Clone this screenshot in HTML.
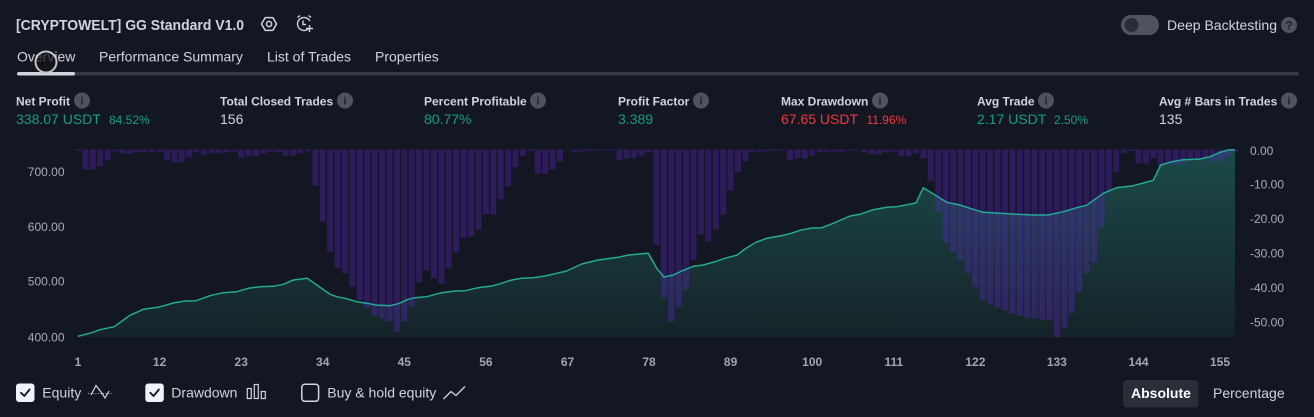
<!DOCTYPE html>
<html><head><meta charset="utf-8">
<style>
html,body{margin:0;padding:0;background:#131722;}
body{width:1314px;height:417px;overflow:hidden;position:relative;}
svg{position:absolute;left:0;top:0;font-family:"Liberation Sans",Arial,sans-serif;}
</style></head>
<body>
<svg width="1314" height="417" viewBox="0 0 1314 417" xmlns="http://www.w3.org/2000/svg">
<defs>
<linearGradient id="eqg" x1="0" y1="150" x2="0" y2="337" gradientUnits="userSpaceOnUse">
<stop offset="0" stop-color="#1b4a48"/>
<stop offset="1" stop-color="#152329"/>
</linearGradient>
</defs>
<rect x="0" y="0" width="1314" height="417" fill="#131722"/>

<!-- Header -->
<text x="16" y="30" font-size="15" font-weight="bold" fill="#d1d4dc" textLength="228" lengthAdjust="spacingAndGlyphs">[CRYPTOWELT] GG Standard V1.0</text>
<!-- settings hex icon -->
<polygon points="261.5,24 265.2,17.6 272.8,17.6 276.5,24 272.8,30.4 265.2,30.4" fill="none" stroke="#d1d4dc" stroke-width="1.5" stroke-linejoin="round"/>
<circle cx="269" cy="24" r="2.6" fill="none" stroke="#d1d4dc" stroke-width="1.5"/>
<!-- alarm plus icon -->
<path d="M309.5,27.5 A6.5,6.5 0 1 1 309.8,21" fill="none" stroke="#d1d4dc" stroke-width="1.4"/>
<path d="M303,20.5 V24.5 H306" fill="none" stroke="#d1d4dc" stroke-width="1.4"/>
<path d="M297.5,17.5 L300,15.5 M308.5,15.5 L311,17.5" stroke="#d1d4dc" stroke-width="1.4"/>
<path d="M309.5,25 V32 M306,28.5 H313" stroke="#d1d4dc" stroke-width="1.4"/>

<!-- Deep backtesting toggle -->
<rect x="1121" y="15" width="38" height="20" rx="10" fill="#50535e"/>
<circle cx="1131.5" cy="25" r="7" fill="#2a2e39"/>
<text x="1167" y="30" font-size="14" fill="#d1d4dc" textLength="110" lengthAdjust="spacingAndGlyphs">Deep Backtesting</text>
<circle cx="1289" cy="25" r="8" fill="#50535e"/>
<text x="1289" y="29.5" font-size="12" font-weight="bold" fill="#1e222d" text-anchor="middle">?</text>

<!-- Tabs -->
<text x="17" y="61.5" font-size="14" fill="#d1d4dc">Overview</text>
<text x="99" y="61.5" font-size="14" fill="#d1d4dc">Performance Summary</text>
<text x="267" y="61.5" font-size="14" fill="#d1d4dc">List of Trades</text>
<text x="375" y="61.5" font-size="14" fill="#d1d4dc">Properties</text>
<rect x="17" y="72" width="1282" height="3.5" rx="1.75" fill="#363a45"/>
<rect x="17" y="72" width="58" height="3.5" rx="1.75" fill="#d1d4dc"/>
<circle cx="46" cy="62" r="10.5" fill="rgba(22,22,24,0.75)" stroke="#c4c4c4" stroke-width="2"/>

<!-- Metrics -->
<g font-size="12" font-weight="bold" fill="#d1d4dc">
<text x="16" y="105.5">Net Profit</text>
<text x="220" y="105.5">Total Closed Trades</text>
<text x="424" y="105.5">Percent Profitable</text>
<text x="618" y="105.5">Profit Factor</text>
<text x="781" y="105.5">Max Drawdown</text>
<text x="977" y="105.5">Avg Trade</text>
<text x="1159" y="105.5">Avg # Bars in Trades</text>
</g>
<g fill="#50535e">
<circle cx="82" cy="100.5" r="8"/>
<circle cx="345" cy="100.5" r="8"/>
<circle cx="538" cy="100.5" r="8"/>
<circle cx="701" cy="100.5" r="8"/>
<circle cx="880" cy="100.5" r="8"/>
<circle cx="1046" cy="100.5" r="8"/>
<circle cx="1289" cy="100.5" r="8"/>
</g>
<g font-size="11" font-weight="bold" fill="#1e222d" text-anchor="middle">
<text x="82" y="104.5">i</text>
<text x="345" y="104.5">i</text>
<text x="538" y="104.5">i</text>
<text x="701" y="104.5">i</text>
<text x="880" y="104.5">i</text>
<text x="1046" y="104.5">i</text>
<text x="1289" y="104.5">i</text>
</g>
<g font-size="14">
<text x="16" y="124" fill="#0e9f86">338.07 USDT</text>
<text x="109" y="124" font-size="12" fill="#0e9f86">84.52%</text>
<text x="220" y="124" fill="#d1d4dc">156</text>
<text x="424" y="124" fill="#0e9f86">80.77%</text>
<text x="618" y="124" fill="#0e9f86">3.389</text>
<text x="781" y="124" fill="#f23645">67.65 USDT</text>
<text x="866.5" y="124" font-size="12" fill="#f23645">11.96%</text>
<text x="977" y="124" fill="#0e9f86">2.17 USDT</text>
<text x="1054" y="124" font-size="12" fill="#0e9f86">2.50%</text>
<text x="1159" y="124" fill="#d1d4dc">135</text>
</g>

<!-- Equity fill -->
<path fill="url(#eqg)" d="M78,337 L78,336.3 L91.7,332.7 L100,329.7 L114.3,326.7 L129.3,315.7 L143.3,309.3 L158.3,307.3 L173.3,303 L185,301 L196,300.7 L210,295.7 L223.3,292.7 L236.7,291.7 L248.3,288.3 L260,286.7 L273.3,286.3 L283.3,284.3 L293.3,280 L307.3,278.3 L316.7,285 L330,294.3 L336.7,296.7 L345,298.3 L356.7,301.7 L370,303.7 L375,305 L390,305.7 L398.3,303.7 L408.3,299.3 L415,297.7 L426.7,296.7 L441.7,292.7 L455,291 L465,290.7 L478.3,287.7 L491.7,286 L498.3,284.3 L511.7,280 L521.7,278.3 L533.3,277.7 L545,276 L555,273.7 L566.7,271 L581.7,264 L598.3,260 L618.3,257.3 L628.3,255 L648.3,253.3 L656.7,268.3 L664,277 L673.3,275 L683.3,270.3 L693.3,266.3 L703.3,265 L715,261.7 L725,258.3 L737.3,255 L745,249 L755,242.7 L766.7,238.3 L780,236 L790,233.7 L800,230.3 L811.7,228 L821.7,227.7 L833.3,223.3 L850,216 L860,214.3 L873.3,209.7 L886.7,207.3 L896.7,206.7 L916,203 L923.3,187.7 L935,195 L946.7,202.3 L960,205 L970,208.3 L983.3,212.3 L1000,213.3 L1016.7,214.3 L1033.3,215 L1048.3,215 L1063.3,211.7 L1076.7,207.7 L1086.7,205.3 L1103.3,193.3 L1116.7,187.7 L1133.3,185.7 L1153.3,180.3 L1160.7,165 L1171.7,161.7 L1183.3,159.7 L1200,159 L1210,156.7 L1220,152.3 L1228.3,150 L1235,149.7 L1235,337 Z"/>

<!-- Drawdown bars -->
<g fill="rgba(100,34,205,0.34)">
<rect x="75.0" y="149.5" width="6" height="1.3"/>
<rect x="82.4" y="149.5" width="6" height="19.8"/>
<rect x="89.8" y="149.5" width="6" height="20.2"/>
<rect x="97.2" y="149.5" width="6" height="16.8"/>
<rect x="104.7" y="149.5" width="6" height="10.2"/>
<rect x="112.1" y="149.5" width="6" height="1.8"/>
<rect x="119.5" y="149.5" width="6" height="4.2"/>
<rect x="126.9" y="149.5" width="6" height="4.2"/>
<rect x="134.3" y="149.5" width="6" height="2.8"/>
<rect x="141.7" y="149.5" width="6" height="2.8"/>
<rect x="149.2" y="149.5" width="6" height="2.2"/>
<rect x="156.6" y="149.5" width="6" height="2.2"/>
<rect x="164.0" y="149.5" width="6" height="10.2"/>
<rect x="171.4" y="149.5" width="6" height="12.8"/>
<rect x="178.8" y="149.5" width="6" height="12.8"/>
<rect x="186.2" y="149.5" width="6" height="7.8"/>
<rect x="193.6" y="149.5" width="6" height="2.8"/>
<rect x="201.1" y="149.5" width="6" height="5.2"/>
<rect x="208.5" y="149.5" width="6" height="3.8"/>
<rect x="215.9" y="149.5" width="6" height="3.8"/>
<rect x="223.3" y="149.5" width="6" height="2.8"/>
<rect x="230.7" y="149.5" width="6" height="2.2"/>
<rect x="238.1" y="149.5" width="6" height="8.2"/>
<rect x="245.6" y="149.5" width="6" height="6.8"/>
<rect x="253.0" y="149.5" width="6" height="6.8"/>
<rect x="260.4" y="149.5" width="6" height="4.2"/>
<rect x="267.8" y="149.5" width="6" height="2.2"/>
<rect x="275.2" y="149.5" width="6" height="2.8"/>
<rect x="282.6" y="149.5" width="6" height="6.2"/>
<rect x="290.1" y="149.5" width="6" height="6.2"/>
<rect x="297.5" y="149.5" width="6" height="3.8"/>
<rect x="304.9" y="149.5" width="6" height="1.8"/>
<rect x="312.3" y="149.5" width="6" height="36.2"/>
<rect x="319.7" y="149.5" width="6" height="72.2"/>
<rect x="327.1" y="149.5" width="6" height="102.2"/>
<rect x="334.6" y="149.5" width="6" height="118.2"/>
<rect x="342.0" y="149.5" width="6" height="123.8"/>
<rect x="349.4" y="149.5" width="6" height="137.2"/>
<rect x="356.8" y="149.5" width="6" height="150.5"/>
<rect x="364.2" y="149.5" width="6" height="158.2"/>
<rect x="371.6" y="149.5" width="6" height="166.2"/>
<rect x="379.1" y="149.5" width="6" height="168.8"/>
<rect x="386.5" y="149.5" width="6" height="171.5"/>
<rect x="393.9" y="149.5" width="6" height="182.2"/>
<rect x="401.3" y="149.5" width="6" height="172.2"/>
<rect x="408.7" y="149.5" width="6" height="157.2"/>
<rect x="416.1" y="149.5" width="6" height="132.8"/>
<rect x="423.5" y="149.5" width="6" height="120.8"/>
<rect x="431.0" y="149.5" width="6" height="128.8"/>
<rect x="438.4" y="149.5" width="6" height="134.2"/>
<rect x="445.8" y="149.5" width="6" height="118.8"/>
<rect x="453.2" y="149.5" width="6" height="102.8"/>
<rect x="460.6" y="149.5" width="6" height="88.2"/>
<rect x="468.0" y="149.5" width="6" height="86.8"/>
<rect x="475.5" y="149.5" width="6" height="80.2"/>
<rect x="482.9" y="149.5" width="6" height="64.8"/>
<rect x="490.3" y="149.5" width="6" height="64.8"/>
<rect x="497.7" y="149.5" width="6" height="49.8"/>
<rect x="505.1" y="149.5" width="6" height="36.8"/>
<rect x="512.5" y="149.5" width="6" height="17.8"/>
<rect x="520.0" y="149.5" width="6" height="6.2"/>
<rect x="527.4" y="149.5" width="6" height="1.2"/>
<rect x="534.8" y="149.5" width="6" height="24.2"/>
<rect x="542.2" y="149.5" width="6" height="24.2"/>
<rect x="549.6" y="149.5" width="6" height="19.8"/>
<rect x="557.0" y="149.5" width="6" height="11.8"/>
<rect x="564.4" y="149.5" width="6" height="0.8"/>
<rect x="571.9" y="149.5" width="6" height="2.2"/>
<rect x="579.3" y="149.5" width="6" height="2.2"/>
<rect x="586.7" y="149.5" width="6" height="1.2"/>
<rect x="594.1" y="149.5" width="6" height="1.2"/>
<rect x="601.5" y="149.5" width="6" height="1.2"/>
<rect x="608.9" y="149.5" width="6" height="1.2"/>
<rect x="616.4" y="149.5" width="6" height="10.8"/>
<rect x="623.8" y="149.5" width="6" height="8.8"/>
<rect x="631.2" y="149.5" width="6" height="8.8"/>
<rect x="638.6" y="149.5" width="6" height="6.2"/>
<rect x="646.0" y="149.5" width="6" height="2.8"/>
<rect x="653.4" y="149.5" width="6" height="95.5"/>
<rect x="660.8" y="149.5" width="6" height="148"/>
<rect x="668.3" y="149.5" width="6" height="172.2"/>
<rect x="675.7" y="149.5" width="6" height="157.2"/>
<rect x="683.1" y="149.5" width="6" height="140"/>
<rect x="690.5" y="149.5" width="6" height="110"/>
<rect x="697.9" y="149.5" width="6" height="84.8"/>
<rect x="705.3" y="149.5" width="6" height="92"/>
<rect x="712.8" y="149.5" width="6" height="79.8"/>
<rect x="720.2" y="149.5" width="6" height="65"/>
<rect x="727.6" y="149.5" width="6" height="41"/>
<rect x="735.0" y="149.5" width="6" height="23"/>
<rect x="742.4" y="149.5" width="6" height="11.7"/>
<rect x="749.8" y="149.5" width="6" height="3"/>
<rect x="757.3" y="149.5" width="6" height="2"/>
<rect x="764.7" y="149.5" width="6" height="1.7"/>
<rect x="772.1" y="149.5" width="6" height="1.2"/>
<rect x="779.5" y="149.5" width="6" height="1.2"/>
<rect x="786.9" y="149.5" width="6" height="11"/>
<rect x="794.3" y="149.5" width="6" height="8.8"/>
<rect x="801.7" y="149.5" width="6" height="8.8"/>
<rect x="809.2" y="149.5" width="6" height="6"/>
<rect x="816.6" y="149.5" width="6" height="2.8"/>
<rect x="824.0" y="149.5" width="6" height="2.2"/>
<rect x="831.4" y="149.5" width="6" height="2.2"/>
<rect x="838.8" y="149.5" width="6" height="2"/>
<rect x="846.2" y="149.5" width="6" height="1.2"/>
<rect x="853.7" y="149.5" width="6" height="1.2"/>
<rect x="861.1" y="149.5" width="6" height="2.8"/>
<rect x="868.5" y="149.5" width="6" height="4.8"/>
<rect x="875.9" y="149.5" width="6" height="4.8"/>
<rect x="883.3" y="149.5" width="6" height="2.8"/>
<rect x="890.7" y="149.5" width="6" height="2.2"/>
<rect x="898.2" y="149.5" width="6" height="6.8"/>
<rect x="905.6" y="149.5" width="6" height="6.8"/>
<rect x="913.0" y="149.5" width="6" height="3.8"/>
<rect x="920.4" y="149.5" width="6" height="8.8"/>
<rect x="927.8" y="149.5" width="6" height="31.8"/>
<rect x="935.2" y="149.5" width="6" height="62.2"/>
<rect x="942.6" y="149.5" width="6" height="93"/>
<rect x="950.1" y="149.5" width="6" height="103"/>
<rect x="957.5" y="149.5" width="6" height="111"/>
<rect x="964.9" y="149.5" width="6" height="123.8"/>
<rect x="972.3" y="149.5" width="6" height="137.2"/>
<rect x="979.7" y="149.5" width="6" height="151"/>
<rect x="987.1" y="149.5" width="6" height="155"/>
<rect x="994.6" y="149.5" width="6" height="158"/>
<rect x="1002.0" y="149.5" width="6" height="161.2"/>
<rect x="1009.4" y="149.5" width="6" height="163.8"/>
<rect x="1016.8" y="149.5" width="6" height="166"/>
<rect x="1024.2" y="149.5" width="6" height="168.2"/>
<rect x="1031.6" y="149.5" width="6" height="169.5"/>
<rect x="1039.1" y="149.5" width="6" height="170.3"/>
<rect x="1046.5" y="149.5" width="6" height="170.3"/>
<rect x="1053.9" y="149.5" width="6" height="187.8"/>
<rect x="1061.3" y="149.5" width="6" height="178.2"/>
<rect x="1068.7" y="149.5" width="6" height="163.8"/>
<rect x="1076.1" y="149.5" width="6" height="142.2"/>
<rect x="1083.5" y="149.5" width="6" height="124"/>
<rect x="1091.0" y="149.5" width="6" height="113"/>
<rect x="1098.4" y="149.5" width="6" height="77.2"/>
<rect x="1105.8" y="149.5" width="6" height="41"/>
<rect x="1113.2" y="149.5" width="6" height="23"/>
<rect x="1120.6" y="149.5" width="6" height="3.8"/>
<rect x="1128.0" y="149.5" width="6" height="1.5"/>
<rect x="1135.5" y="149.5" width="6" height="14"/>
<rect x="1142.9" y="149.5" width="6" height="14"/>
<rect x="1150.3" y="149.5" width="6" height="8.8"/>
<rect x="1157.7" y="149.5" width="6" height="17.5"/>
<rect x="1165.1" y="149.5" width="6" height="15"/>
<rect x="1172.5" y="149.5" width="6" height="15"/>
<rect x="1180.0" y="149.5" width="6" height="15"/>
<rect x="1187.4" y="149.5" width="6" height="9.5"/>
<rect x="1194.8" y="149.5" width="6" height="8.8"/>
<rect x="1202.2" y="149.5" width="6" height="8.8"/>
<rect x="1209.6" y="149.5" width="6" height="11.7"/>
<rect x="1217.0" y="149.5" width="6" height="11.7"/>
<rect x="1224.4" y="149.5" width="6" height="7.7"/>
<rect x="1231.9" y="149.5" width="6" height="2.8"/>
</g>

<!-- Equity line -->
<polyline fill="none" stroke="#22ab94" stroke-width="1.5" stroke-linejoin="round" points="78,336.3 91.7,332.7 100,329.7 114.3,326.7 129.3,315.7 143.3,309.3 158.3,307.3 173.3,303 185,301 196,300.7 210,295.7 223.3,292.7 236.7,291.7 248.3,288.3 260,286.7 273.3,286.3 283.3,284.3 293.3,280 307.3,278.3 316.7,285 330,294.3 336.7,296.7 345,298.3 356.7,301.7 370,303.7 375,305 390,305.7 398.3,303.7 408.3,299.3 415,297.7 426.7,296.7 441.7,292.7 455,291 465,290.7 478.3,287.7 491.7,286 498.3,284.3 511.7,280 521.7,278.3 533.3,277.7 545,276 555,273.7 566.7,271 581.7,264 598.3,260 618.3,257.3 628.3,255 648.3,253.3 656.7,268.3 664,277 673.3,275 683.3,270.3 693.3,266.3 703.3,265 715,261.7 725,258.3 737.3,255 745,249 755,242.7 766.7,238.3 780,236 790,233.7 800,230.3 811.7,228 821.7,227.7 833.3,223.3 850,216 860,214.3 873.3,209.7 886.7,207.3 896.7,206.7 916,203 923.3,187.7 935,195 946.7,202.3 960,205 970,208.3 983.3,212.3 1000,213.3 1016.7,214.3 1033.3,215 1048.3,215 1063.3,211.7 1076.7,207.7 1086.7,205.3 1103.3,193.3 1116.7,187.7 1133.3,185.7 1153.3,180.3 1160.7,165 1171.7,161.7 1183.3,159.7 1200,159 1210,156.7 1220,152.3 1228.3,150 1235,149.7"/>

<!-- Left axis -->
<g font-size="12" fill="#a9acb5" text-anchor="end">
<text x="64.5" y="175.8">700.00</text>
<text x="64.5" y="230.8">600.00</text>
<text x="64.5" y="285.6">500.00</text>
<text x="64.5" y="341.6">400.00</text>
</g>
<!-- Right axis -->
<g font-size="12" fill="#a9acb5">
<text x="1250" y="155">0.00</text>
<text x="1250" y="188.6">-10.00</text>
<text x="1250" y="223">-20.00</text>
<text x="1250" y="257.6">-30.00</text>
<text x="1250" y="292">-40.00</text>
<text x="1250" y="326.6">-50.00</text>
</g>
<!-- X axis -->
<g font-size="12" font-weight="bold" fill="#a3a6af" text-anchor="middle">
<text x="78" y="366">1</text>
<text x="159.6" y="366">12</text>
<text x="241.2" y="366">23</text>
<text x="322.7" y="366">34</text>
<text x="404.3" y="366">45</text>
<text x="485.9" y="366">56</text>
<text x="567.5" y="366">67</text>
<text x="649" y="366">78</text>
<text x="730.6" y="366">89</text>
<text x="812.2" y="366">100</text>
<text x="893.8" y="366">111</text>
<text x="975.4" y="366">122</text>
<text x="1056.9" y="366">133</text>
<text x="1138.5" y="366">144</text>
<text x="1220" y="366">155</text>
</g>

<!-- Legend -->
<rect x="16" y="383.5" width="18.5" height="18.5" rx="3" fill="#f0f3fa"/>
<path d="M21,392.8 L24.3,396 L29.6,389.5" fill="none" stroke="#131722" stroke-width="1.8" stroke-linecap="round" stroke-linejoin="round"/>
<text x="42.3" y="397.5" font-size="14" fill="#d1d4dc">Equity</text>
<line x1="88" y1="393.5" x2="112" y2="393.5" stroke="#a9acb5" stroke-width="1" stroke-dasharray="1,1.5"/>
<polyline points="91,395 96,385.5 101,392 105,398 109,391" fill="none" stroke="#d1d4dc" stroke-width="1.2"/>

<rect x="145.3" y="383.5" width="18.5" height="18.5" rx="3" fill="#f0f3fa"/>
<path d="M150.3,392.8 L153.6,396 L158.9,389.5" fill="none" stroke="#131722" stroke-width="1.8" stroke-linecap="round" stroke-linejoin="round"/>
<text x="171.3" y="397.5" font-size="14" fill="#d1d4dc">Drawdown</text>
<g fill="none" stroke="#d1d4dc" stroke-width="1.2">
<rect x="247.3" y="388.5" width="4" height="10"/>
<rect x="254.3" y="384.5" width="4" height="14"/>
<rect x="261.3" y="391.5" width="4" height="7"/>
</g>

<rect x="301.8" y="384.3" width="16.8" height="17" rx="3" fill="none" stroke="#d1d4dc" stroke-width="1.5"/>
<text x="327.3" y="397.5" font-size="14" fill="#d1d4dc">Buy &amp; hold equity</text>
<polyline points="443.5,399 451,391.5 456,395.5 465,386.5" fill="none" stroke="#d1d4dc" stroke-width="1.3"/>

<rect x="1123" y="380" width="75.5" height="27.5" rx="4" fill="#2a2e39"/>
<text x="1131" y="398" font-size="14" font-weight="bold" fill="#ffffff">Absolute</text>
<text x="1213" y="398" font-size="14" fill="#d1d4dc">Percentage</text>
</svg>
</body></html>
